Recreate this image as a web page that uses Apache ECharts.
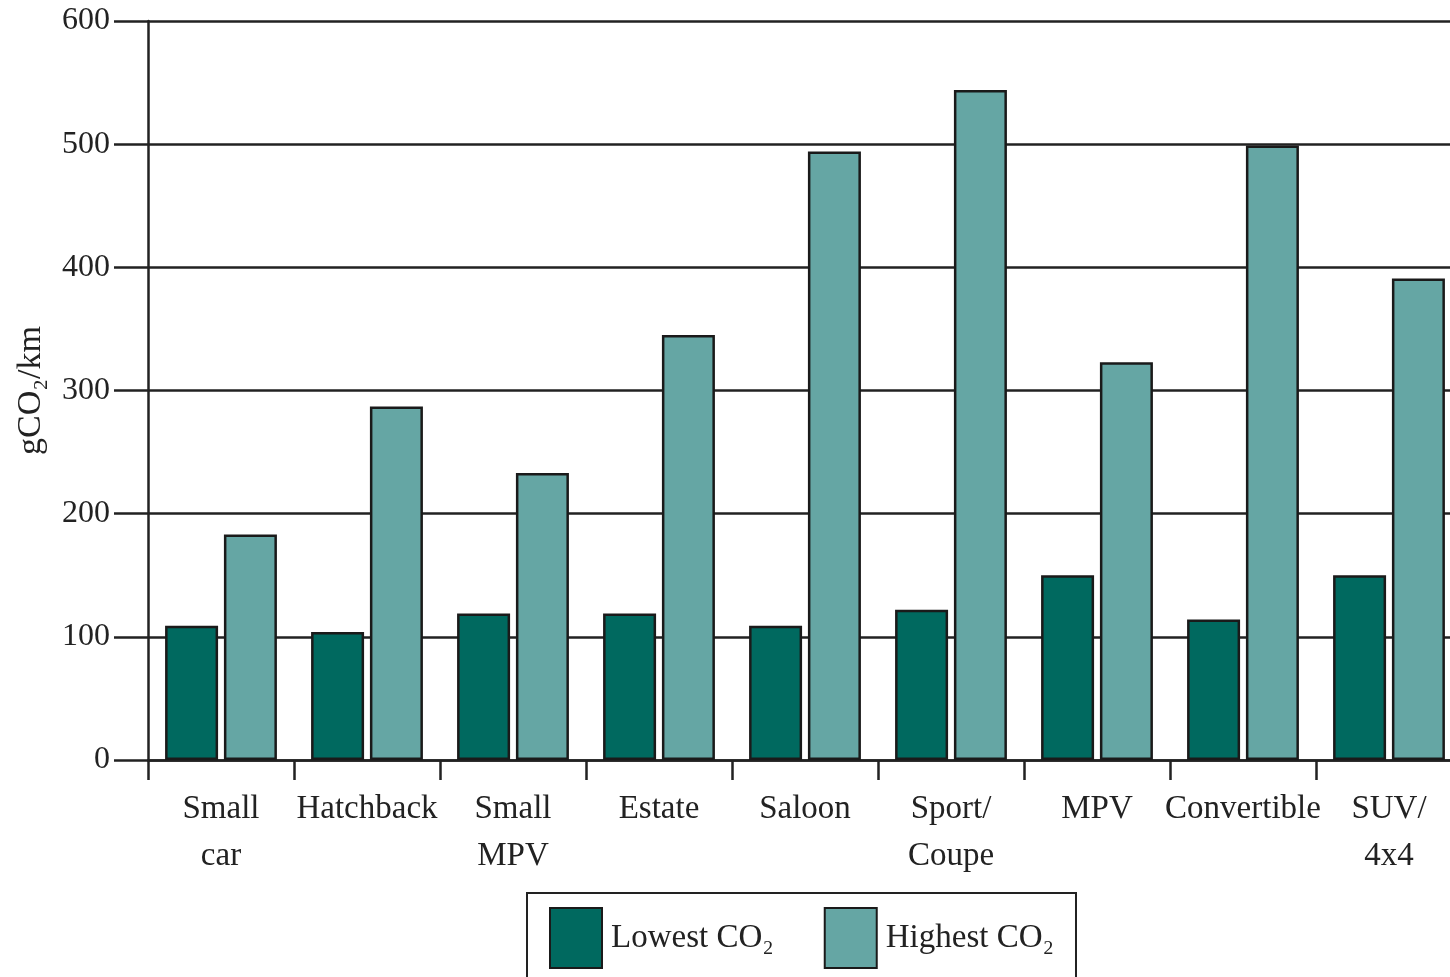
<!DOCTYPE html>
<html>
<head>
<meta charset="utf-8">
<script src="https://cdn.jsdelivr.net/npm/echarts@6/dist/echarts.min.js"></script>
<style>
  html, body { margin: 0; padding: 0; background: #fff; }
  #chart { width: 1450px; height: 977px; }
</style>
</head>
<body>
<div id="chart"></div>
<script>
// 车型分类
var categories = ['Small\ncar', 'Hatchback', 'Small\nMPV', 'Estate', 'Saloon', 'Sport/\nCoupe', 'MPV', 'Convertible', 'SUV/\n4x4'];
// 最低 / 最高排放 (gCO2/km)
var lowestCO2 = [109, 104, 119, 119, 109, 122, 150, 114, 150];
var highestCO2 = [183, 287, 233, 345, 494, 544, 323, 499, 391];
var yTicks = [0, 100, 200, 300, 400, 500, 600];

var serif = '"Liberation Serif", "DejaVu Serif", serif';
var chart = echarts.init(document.getElementById('chart'));

var option = {
  backgroundColor: '#fff',
  animation: false,
  legend: {
    left: 527,
    top: 893,
    orient: 'horizontal',
    padding: [14, 22, 40, 22],
    itemGap: 50,
    itemWidth: 52,
    itemHeight: 60,
    icon: 'rect',
    borderColor: '#222',
    borderWidth: 2,
    textStyle: {
      fontFamily: serif,
      fontSize: 33,
      color: '#222',
      padding: [0, 0, 0, 4]
    },
    data: ['Lowest CO₂', 'Highest CO₂']
  },
  grid: {
    left: 148,
    top: 21,
    width: 1314,
    height: 739,
    outerBoundsMode: 'none'
  },
  xAxis: {
    type: 'category',
    data: categories,
    boundaryGap: true,
    axisLine: { show: true, lineStyle: { color: '#222', width: 2.5 } },
    axisTick: { show: true, length: 20, alignWithLabel: false, lineStyle: { color: '#222', width: 2.5 } },
    axisLabel: {
      interval: 0,
      margin: 26,
      fontFamily: serif,
      fontSize: 33,
      lineHeight: 47,
      color: '#222'
    }
  },
  yAxis: {
    type: 'value',
    min: yTicks[0],
    max: yTicks[yTicks.length - 1],
    interval: 100,
    name: 'gCO₂/km',
    nameLocation: 'middle',
    nameGap: 100,
    nameRotate: 90,
    nameTextStyle: {
      fontFamily: serif,
      fontSize: 34,
      color: '#222'
    },
    axisLine: { show: true, lineStyle: { color: '#222', width: 2.5 } },
    axisTick: { show: true, length: 34, lineStyle: { color: '#222', width: 2.5 } },
    axisLabel: {
      margin: 38,
      fontFamily: serif,
      fontSize: 32,
      color: '#222'
    },
    splitLine: { show: true, lineStyle: { color: '#222', width: 2.5 } }
  },
  series: [
    {
      name: 'Lowest CO₂',
      type: 'bar',
      data: lowestCO2,
      barWidth: 53,
      barGap: '11%',
      itemStyle: { color: '#00695f', borderColor: '#1a1a1a', borderWidth: 2.5 }
    },
    {
      name: 'Highest CO₂',
      type: 'bar',
      data: highestCO2,
      barWidth: 53,
      barGap: '11%',
      itemStyle: { color: '#65a6a4', borderColor: '#1a1a1a', borderWidth: 2.5 }
    }
  ]
};

chart.setOption(option);
</script>
</body>
</html>
